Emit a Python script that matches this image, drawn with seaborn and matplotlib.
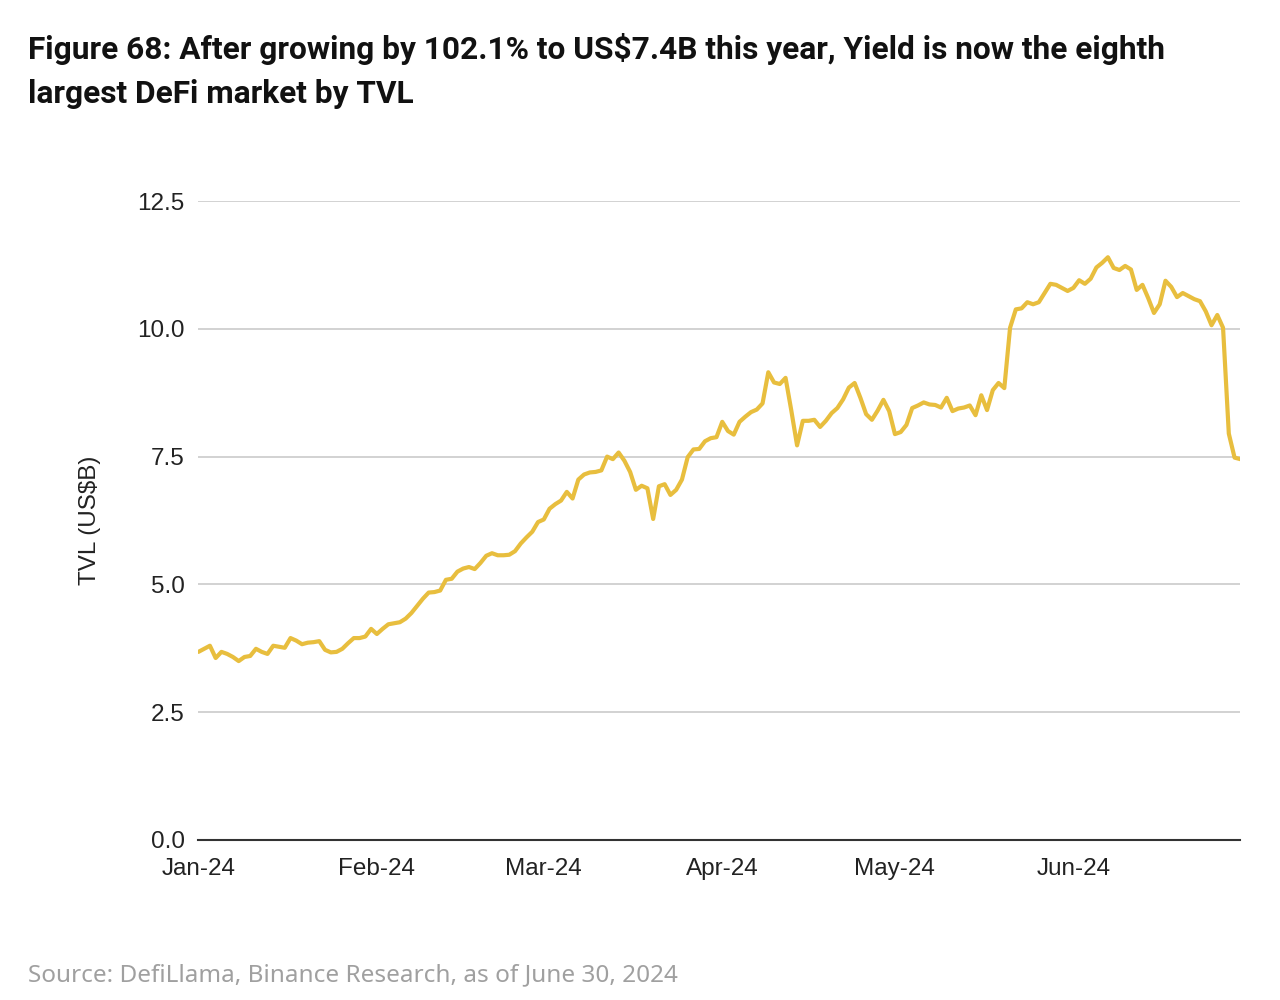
import numpy as np
import pandas as pd
import matplotlib
matplotlib.use("Agg")
import matplotlib.pyplot as plt
import matplotlib.dates as mdates
import seaborn as sns

start_date = "2024-01-01"
end_date = "2024-06-30"
tvl_values = [
    3.68, 3.74, 3.80, 3.56, 3.68, 3.64, 3.58, 3.50, 3.58, 3.60,
    3.74, 3.68, 3.64, 3.80, 3.78, 3.76, 3.95, 3.90, 3.83, 3.86,
    3.87, 3.89, 3.72, 3.67, 3.68, 3.74, 3.85, 3.95, 3.95, 3.98,
    4.13, 4.03, 4.13, 4.22, 4.24, 4.26, 4.33, 4.44, 4.58, 4.72,
    4.84, 4.85, 4.88, 5.09, 5.11, 5.25, 5.31, 5.34, 5.30, 5.42,
    5.56, 5.61, 5.57, 5.57, 5.58, 5.65, 5.80, 5.92, 6.03, 6.22,
    6.27, 6.48, 6.57, 6.64, 6.81, 6.68, 7.05, 7.15, 7.19, 7.20,
    7.23, 7.50, 7.45, 7.58, 7.42, 7.20, 6.85, 6.93, 6.88, 6.28,
    6.92, 6.96, 6.75, 6.85, 7.05, 7.49, 7.64, 7.65, 7.80, 7.86,
    7.88, 8.18, 8.00, 7.93, 8.18, 8.28, 8.37, 8.42, 8.54, 9.15,
    8.95, 8.92, 9.04, 8.40, 7.72, 8.20, 8.20, 8.22, 8.08, 8.20,
    8.35, 8.45, 8.62, 8.85, 8.94, 8.65, 8.33, 8.22, 8.40, 8.61,
    8.39, 7.94, 7.98, 8.12, 8.45, 8.50, 8.56, 8.52, 8.51, 8.46,
    8.65, 8.39, 8.44, 8.46, 8.50, 8.31, 8.70, 8.41, 8.80, 8.94,
    8.84, 10.02, 10.38, 10.40, 10.52, 10.48, 10.52, 10.70, 10.88, 10.86,
    10.80, 10.74, 10.80, 10.95, 10.88, 10.98, 11.20, 11.29, 11.40, 11.19,
    11.15, 11.23, 11.16, 10.76, 10.86, 10.60, 10.31, 10.48, 10.94, 10.82,
    10.62, 10.70, 10.64, 10.58, 10.54, 10.34, 10.07, 10.27, 10.02, 7.95,
    7.48, 7.45,
]
y_ticks = [0.0, 2.5, 5.0, 7.5, 10.0, 12.5]

dates = pd.date_range(start_date, end_date, freq="D")
df = pd.DataFrame({"date": dates, "tvl": tvl_values})

sns.set_theme(style="white")
plt.rcParams["font.family"] = ["Liberation Sans", "DejaVu Sans"]

fig = plt.figure(figsize=(12.8, 10), dpi=100)
ax = fig.add_axes([0.155, 0.16, 0.814, 0.639])

sns.lineplot(data=df, x="date", y="tvl", ax=ax, color="#E8BE3E", linewidth=3.0)

ax.set_ylim(0, 12.5)
ax.set_xlim(pd.Timestamp(start_date), pd.Timestamp(end_date))
ax.set_yticks(y_ticks)
ax.set_yticklabels([f"{v:.1f}" for v in y_ticks])
ax.yaxis.grid(True, color="#cfcfcf", linewidth=1.3)
ax.xaxis.grid(False)
ax.set_axisbelow(True)

ax.xaxis.set_major_locator(mdates.MonthLocator())
ax.xaxis.set_major_formatter(mdates.DateFormatter("%b-%y"))

for s in ["top", "right", "left"]:
    ax.spines[s].set_visible(False)
ax.spines["bottom"].set_color("#333333")
ax.spines["bottom"].set_linewidth(1.5)

ax.tick_params(axis="both", labelsize=17.5, colors="#222222", length=0)
ax.tick_params(axis="x", pad=13)
ax.tick_params(axis="y", pad=10)
ax.set_xlabel("")
ax.set_ylabel("TVL (US$B)", fontsize=17.5, color="#222222", labelpad=26)

title_font = ["Roboto", "DejaVu Sans"]
fig.text(0.022, 0.951, "Figure 68: After growing by 102.1% to US$7.4B this year, Yield is now the eighth",
         fontsize=22.8, fontweight="bold", color="#111111", family=title_font,
         va="center", ha="left")
fig.text(0.022, 0.906, "largest DeFi market by TVL",
         fontsize=22.8, fontweight="bold", color="#111111", family=title_font,
         va="center", ha="left")
fig.text(0.022, 0.025, "Source: DefiLlama, Binance Research, as of June 30, 2024",
         fontsize=17.5, color="#a0a0a0", family=["Noto Sans", "DejaVu Sans"],
         va="center", ha="left")

fig.savefig("out.png", dpi=100, facecolor="white")
